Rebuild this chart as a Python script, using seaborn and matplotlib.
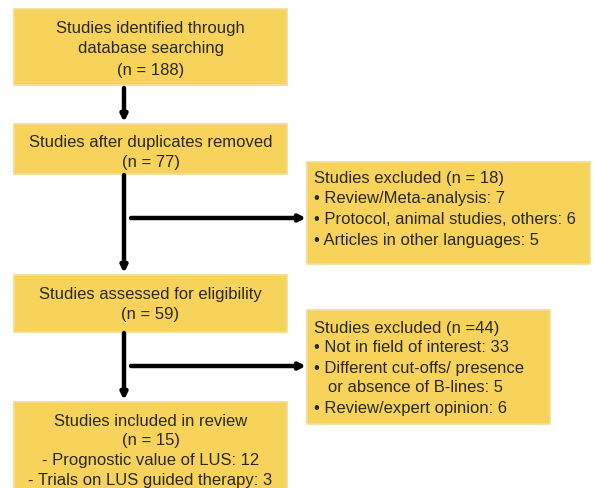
import matplotlib
matplotlib.use("Agg")
import matplotlib.pyplot as plt
from matplotlib.patches import Rectangle
import seaborn as sns

# Flow boxes (main column), text lines
main_boxes = [
    ["Studies identified through", "database searching", "(n = 188)"],
    ["Studies after duplicates removed", "(n = 77)"],
    ["Studies assessed for eligibility", "(n = 59)"],
    ["Studies included in review", "(n = 15)", "- Prognostic value of LUS: 12",
     "- Trials on LUS guided therapy: 3"],
]
# Exclusion boxes (side column)
excluded_boxes = [
    ["Studies excluded (n = 18)", "\u2022 Review/Meta-analysis: 7",
     "\u2022 Protocol, animal studies, others: 6", "\u2022 Articles in other languages: 5"],
    ["Studies excluded (n =44)", "\u2022 Not in field of interest: 33",
     "\u2022 Different cut-offs/ presence", "   or absence of B-lines: 5",
     "\u2022 Review/expert opinion: 6"],
]

sns.set_theme(style="white")
plt.rcParams["font.family"] = ["Liberation Sans", "DejaVu Sans"]

FILL = "#F8D35C"
EDGE = "#F1DC92"
TXT = "#2a2916"
FS = 12

fig = plt.figure(figsize=(5.93, 4.89), dpi=100)
ax = fig.add_axes([0, 0, 1, 1])
ax.set_xlim(0, 593)
ax.set_ylim(489, 0)
ax.axis("off")

# layout (pixel coords)
main_rects = [(14, 10, 273, 76), (14, 125, 273, 50), (14, 276, 273, 57), (14, 403, 273, 95)]
main_text_y = [[29, 49, 70], [143, 163], [294, 315], [421, 441, 461, 481]]
excl_rects = [(307, 163, 283, 102), (307, 311, 243, 114)]
excl_text_y = [[178, 199, 220, 241], [328, 348, 368, 388, 408]]

for (x, y, w, h), lines, ys in zip(main_rects, main_boxes, main_text_y):
    ax.add_patch(Rectangle((x, y), w, h, facecolor=FILL, edgecolor=EDGE, lw=1.2, zorder=1))
    for line, ty in zip(lines, ys):
        ax.text(x + w / 2, ty, line, ha="center", va="center", fontsize=FS, color=TXT, zorder=3)

for (x, y, w, h), lines, ys in zip(excl_rects, excluded_boxes, excl_text_y):
    ax.add_patch(Rectangle((x, y), w, h, facecolor=FILL, edgecolor=EDGE, lw=1.2, zorder=1))
    for line, ty in zip(lines, ys):
        ax.text(x + 7, ty, line, ha="left", va="center", fontsize=FS, color=TXT, zorder=3)

arrow = dict(arrowstyle="-|>", lw=3.2, color="black", mutation_scale=9,
             shrinkA=0, shrinkB=0)
cx = 124
# vertical arrows
ax.annotate("", xy=(cx, 123), xytext=(cx, 89), arrowprops=arrow)
ax.annotate("", xy=(cx, 274), xytext=(cx, 176), arrowprops=arrow)
ax.annotate("", xy=(cx, 401), xytext=(cx, 334), arrowprops=arrow)
# horizontal branches
ax.annotate("", xy=(306, 219), xytext=(131, 219), arrowprops=arrow)
ax.annotate("", xy=(306, 367), xytext=(131, 367), arrowprops=arrow)

fig.savefig("out.png", dpi=100, facecolor="white")
